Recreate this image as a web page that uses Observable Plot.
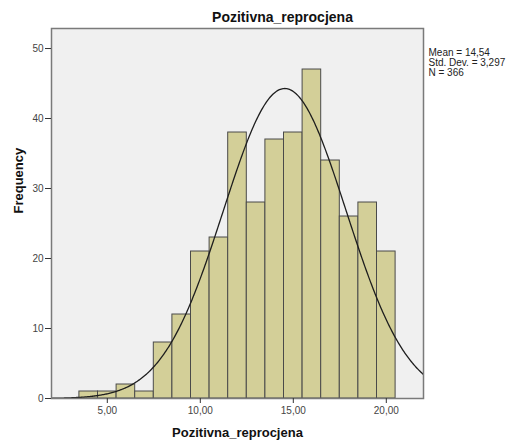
<!DOCTYPE html>
<html><head><meta charset="utf-8">
<script src="https://cdn.jsdelivr.net/npm/d3@7"></script>
<script src="https://cdn.jsdelivr.net/npm/@observablehq/plot@0.6"></script>
<style>body{margin:0;background:#fff}</style>
</head><body><div id="chart"></div>
<script>
const binCenters = [4,5,6,7,8,9,10,11,12,13,14,15,16,17,18,19,20];
const counts =     [1,1,2,1,8,12,21,23,38,28,37,38,47,34,26,28,21];
const xTicks = [5,10,15,20];
const yTicks = [0,10,20,30,40,50];
const stats = {mean: 14.54, sd: 3.297, n: 366};
const statsText = ["Mean = 14,54", "Std. Dev. = 3,297", "N = 366"];

const bars = binCenters.map((c,i)=>({x1:c-0.5, x2:c+0.5, y:counts[i]}));
// fitted normal curve from the reported mean / sd / N (bin width 1)
const curve = d3.range(2, 22.001, 0.05).map(x=>({x, y: stats.n/(stats.sd*Math.sqrt(2*Math.PI))*Math.exp(-0.5*((x-stats.mean)/stats.sd)**2)}));
const fmt = d => d.toFixed(2).replace(".", ",");

const chart = Plot.plot({
  width: 510, height: 443,
  marginLeft: 51, marginRight: 87, marginTop: 28, marginBottom: 45,
  style: {fontFamily: "'Liberation Sans', Arial, sans-serif", background: "#fff"},
  x: {domain: [2, 22]},
  y: {domain: [0, 52.86]},
  marks: [
    Plot.frame({fill: "#f0f0f0", stroke: "none"}),
    Plot.rect(bars, {x1:"x1", x2:"x2", y1:0, y2:"y", fill:"#d3cf98", stroke:"#4a4a4a", strokeWidth:1}),
    Plot.line(curve, {x:"x", y:"y", stroke:"#1e1e1e", strokeWidth:1.3, clip:true}),
    Plot.frame({stroke:"#7a7a7a", strokeWidth:1.5}),
    Plot.axisX({ticks: xTicks, tickFormat: fmt, tickSize: 5, tickPadding: 3, fontSize: 10, color: "#444", label: null, stroke: "#333"}),
    Plot.axisY({ticks: yTicks, tickSize: 6, tickPadding: 2, fontSize: 10, color: "#444", label: null, stroke: "#333"}),
    Plot.text(["Pozitivna_reprocjena"], {frameAnchor:"top", dx:45, dy:-11, lineAnchor:"middle", fontWeight:"bold", fontSize:14, fill:"#111"}),
    Plot.text(["Pozitivna_reprocjena"], {frameAnchor:"bottom", dy:34, lineAnchor:"middle", fontWeight:"bold", fontSize:13, fill:"#111"}),
    Plot.text(["Frequency"], {frameAnchor:"left", dx:-33, rotate:-90, lineAnchor:"middle", fontWeight:"bold", fontSize:13, fill:"#111"}),
    Plot.text([statsText.join("\n")], {frameAnchor:"top-right", dx:5, dy:20, textAnchor:"start", lineAnchor:"top", lineHeight:1.0, fontSize:10, fill:"#222"})
  ]
});
document.getElementById("chart").appendChild(chart);
</script>
</body></html>
